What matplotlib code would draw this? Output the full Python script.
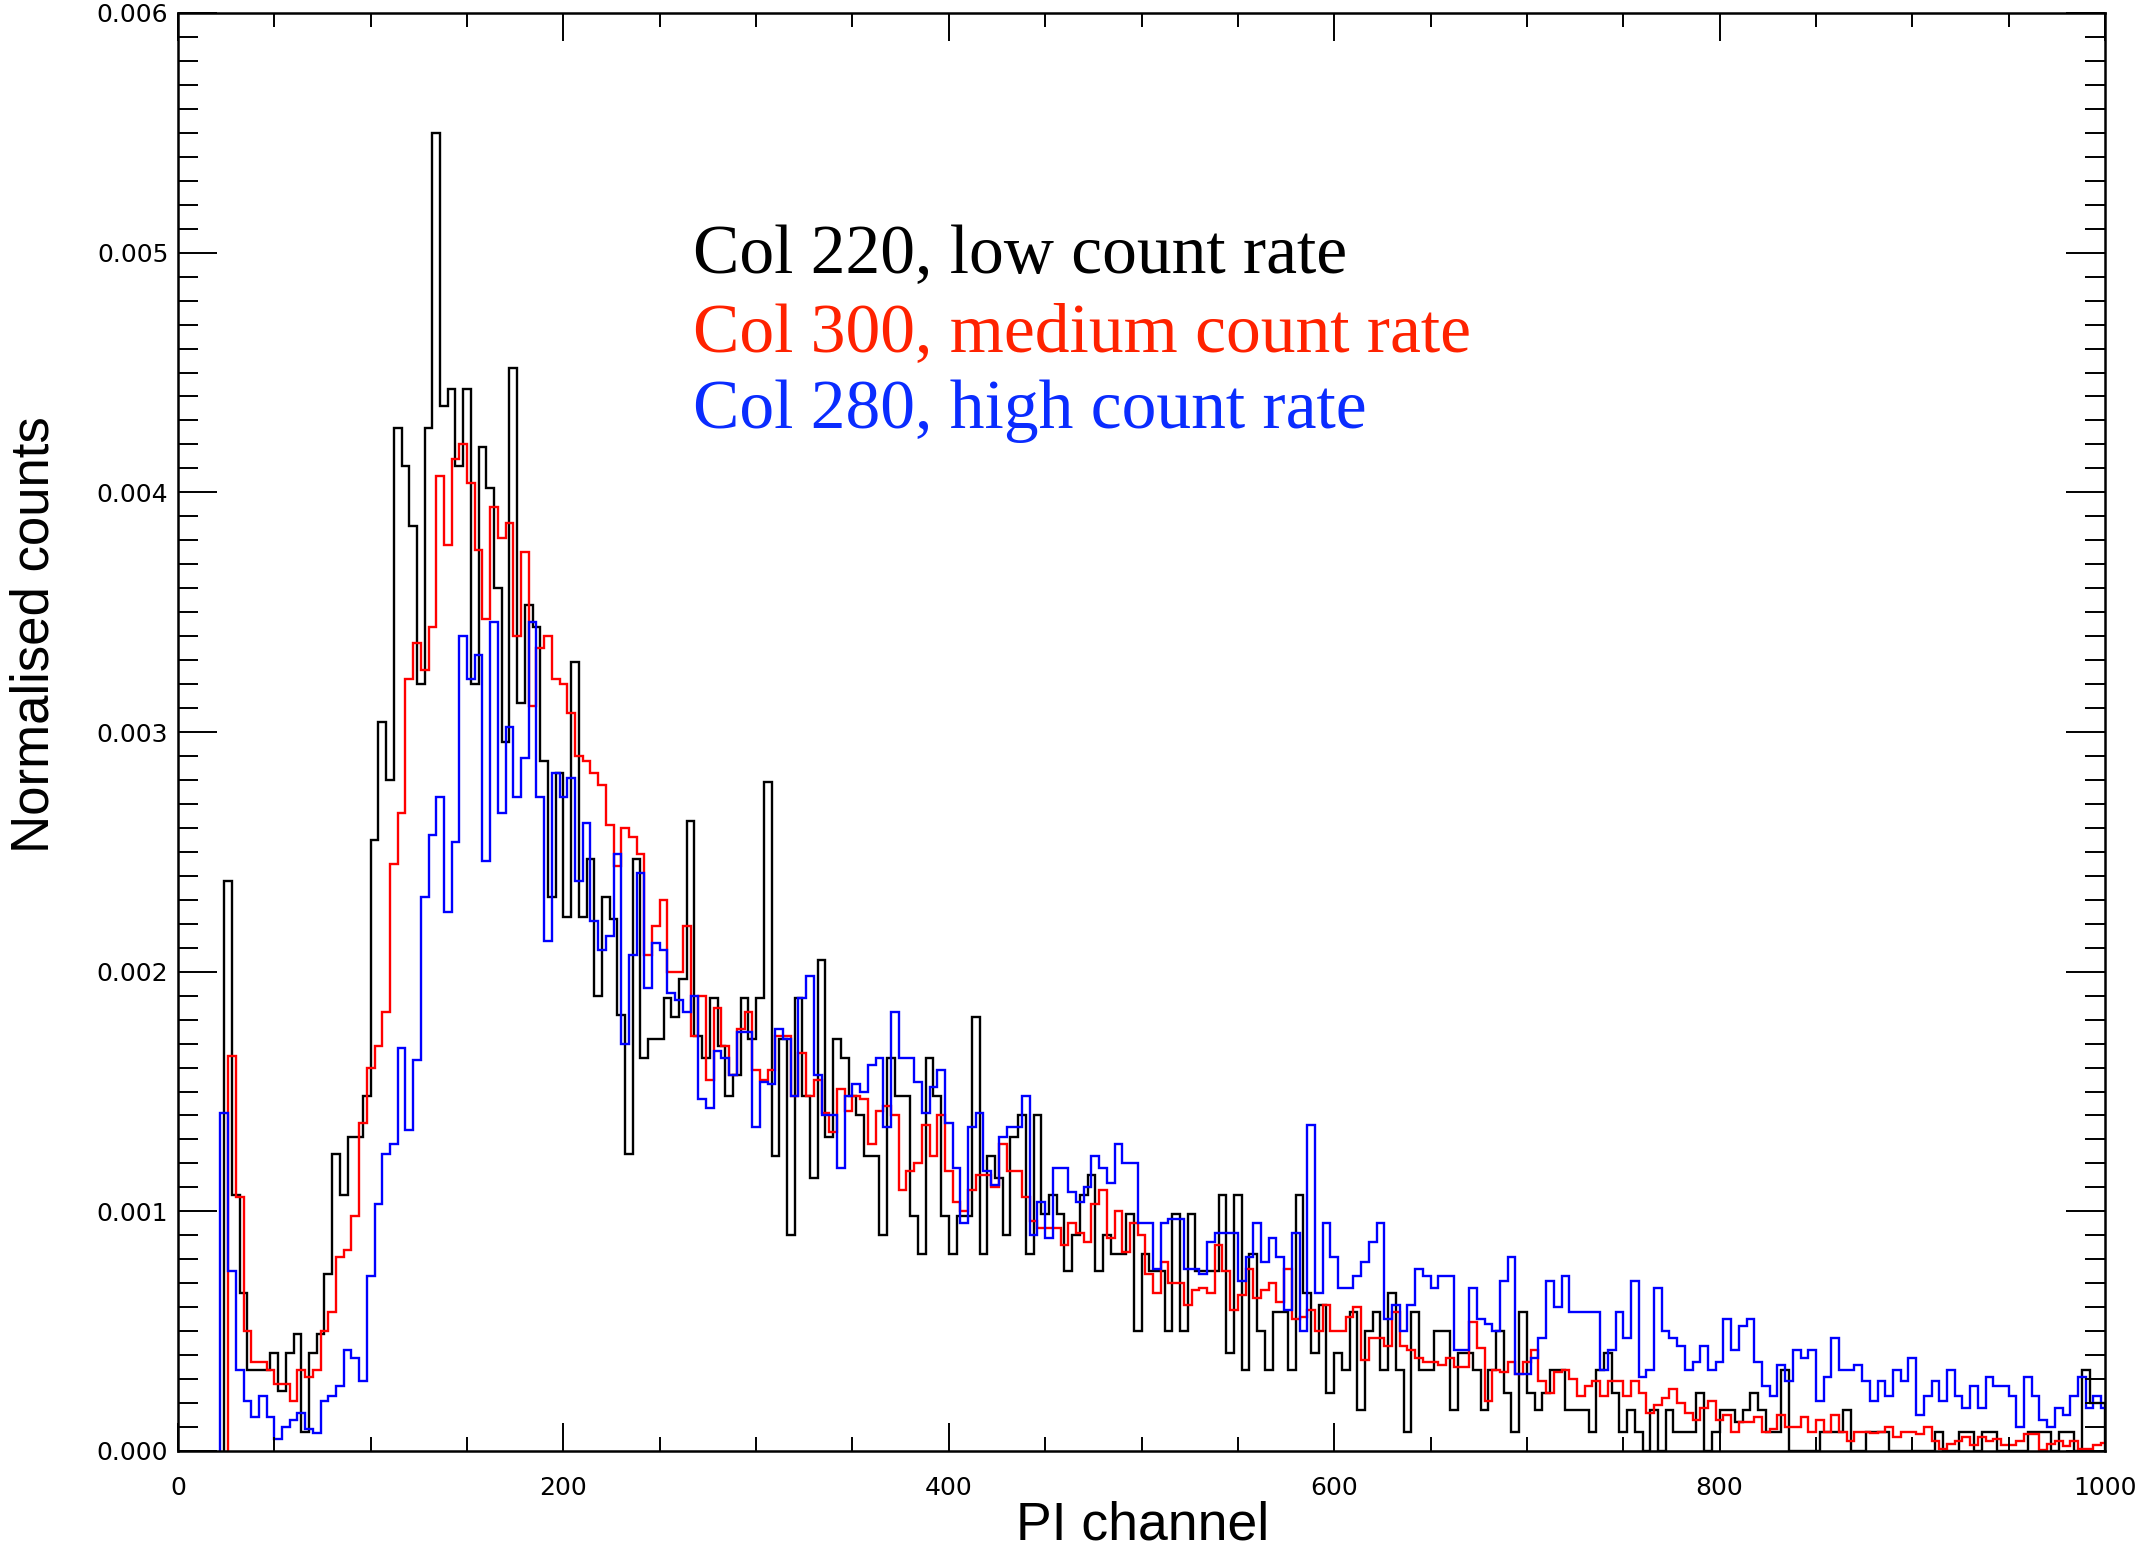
import numpy as np
import matplotlib
matplotlib.use("Agg")
import matplotlib.pyplot as plt
from matplotlib.ticker import MultipleLocator, FixedLocator

# ---------------- data (normalised counts, units of 1e-4) ----------------
bin_width = 4  # PI channels per bin

black_start = 24
black_vals = [
    23.8, 10.7, 6.6, 3.4, 3.4, 3.4, 4.1, 2.5, 4.1, 4.9, 0.8,
    4.1, 4.9, 7.4, 12.4, 10.7, 13.1, 13.1, 14.8, 25.5, 30.4, 28.0,
    42.7, 41.1, 38.6, 32.0, 42.7, 55.0, 43.6, 44.3, 41.1, 44.3, 32.0,
    41.9, 40.2, 36.0, 29.6, 45.2, 31.2, 35.3, 34.4, 28.8, 23.1, 28.3,
    22.3, 32.9, 22.3, 24.7, 19.0, 23.1, 22.2, 18.2, 12.4, 24.7, 16.4,
    17.2, 17.2, 18.9, 18.1, 19.7, 26.3, 17.3, 16.4, 18.9, 16.9, 14.8,
    15.7, 18.9, 17.2, 18.9, 27.9, 12.3, 17.2, 9.0, 18.9, 14.8, 11.4,
    20.5, 13.1, 17.2, 16.4, 14.8, 14.0, 12.3, 12.3, 9.0, 16.4, 14.8,
    14.8, 9.8, 8.2, 16.4, 14.8, 9.8, 8.2, 9.8, 9.8, 18.1, 8.2,
    12.3, 11.4, 9.0, 13.1, 14.0, 8.2, 14.0, 9.9, 10.7, 9.9, 7.5,
    9.0, 10.7, 11.5, 7.5, 9.0, 8.2, 8.2, 9.9, 5.0, 8.2, 7.5,
    7.5, 5.0, 9.9, 5.0, 9.9, 7.5, 7.5, 7.5, 10.7, 4.1, 10.7,
    3.4, 8.2, 5.0, 3.4, 5.8, 5.8, 3.4, 10.7, 6.6, 4.1, 6.1,
    2.4, 4.1, 3.4, 5.8, 1.7, 5.0, 5.8, 3.4, 6.6, 3.4, 0.8,
    5.8, 3.4, 3.4, 5.0, 5.0, 1.7, 4.1, 4.1, 3.4, 1.7, 3.4,
    5.0, 2.4, 0.8, 5.8, 2.4, 1.7, 2.4, 3.4, 3.4, 1.7, 1.7,
    1.7, 0.8, 3.4, 4.1, 2.4, 0.8, 1.7, 0.8, 0.0, 1.7, 0.0,
    1.7, 0.8, 0.8, 0.8, 2.4, 0.0, 0.8, 1.7, 1.7, 1.2, 1.7,
    2.4, 1.7, 0.8, 0.8, 3.4, 0.0, 0.0, 0.0, 0.0, 0.8, 0.8,
    0.8, 1.7, 0.0, 0.0, 0.8, 0.8, 0.8, 0.0, 0.0, 0.0, 0.0,
    0.0, 0.0, 0.8, 0.0, 0.0, 0.8, 0.8, 0.0, 0.8, 0.8, 0.0,
    0.0, 0.0, 0.0, 0.8, 0.8, 0.8, 0.0, 0.8, 0.8, 0.0, 3.4,
    2.0, 2.0,
]

red_start = 26
red_vals = [
    16.5, 10.6, 5.0, 3.7, 3.7, 3.4, 2.8, 2.8, 2.1, 3.4, 3.1,
    3.4, 5.0, 5.8, 8.1, 8.4, 9.8, 13.7, 16.0, 16.9, 18.3, 24.5,
    26.6, 32.2, 33.7, 32.6, 34.4, 40.7, 37.8, 41.4, 42.0, 40.4, 37.6,
    34.7, 39.4, 38.1, 38.7, 34.0, 37.5, 31.1, 33.5, 34.0, 32.2, 32.0,
    30.8, 29.0, 28.8, 28.3, 27.8, 26.1, 24.4, 26.0, 25.6, 24.9, 20.7,
    21.9, 23.0, 20.0, 20.0, 21.9, 17.3, 19.0, 15.5, 18.5, 16.9, 15.7,
    17.6, 18.3, 15.9, 15.5, 15.9, 17.3, 17.3, 14.8, 16.6, 14.8, 15.5,
    14.1, 13.3, 15.1, 14.2, 14.8, 14.7, 12.8, 14.2, 14.4, 14.0, 10.9,
    11.7, 12.0, 13.6, 12.3, 14.0, 11.7, 10.4, 10.0, 10.9, 11.5, 11.5,
    11.0, 12.8, 11.7, 11.7, 10.6, 9.6, 9.3, 9.3, 9.3, 8.6, 9.5,
    9.1, 8.7, 10.3, 10.9, 8.9, 10.0, 8.3, 9.5, 9.0, 7.4, 6.6,
    7.9, 7.0, 7.0, 6.1, 6.7, 6.8, 6.6, 8.6, 7.5, 5.9, 6.5,
    7.6, 6.4, 6.7, 7.0, 6.2, 7.6, 5.5, 5.6, 5.9, 5.0, 6.1,
    5.0, 5.0, 5.6, 6.0, 3.8, 4.7, 4.7, 4.4, 5.8, 4.4, 4.2,
    3.9, 3.7, 3.7, 3.6, 3.9, 3.5, 3.5, 5.4, 4.3, 2.1, 3.4,
    3.3, 3.7, 3.2, 3.7, 4.2, 2.9, 2.4, 3.3, 3.4, 3.0, 2.3,
    2.7, 2.9, 2.3, 2.9, 2.9, 2.3, 2.9, 2.4, 1.6, 1.9, 2.2,
    2.6, 2.0, 1.6, 1.3, 1.8, 2.1, 1.3, 1.5, 0.8, 1.2, 1.2,
    1.4, 0.8, 0.9, 1.5, 1.0, 1.0, 1.4, 0.8, 1.3, 0.8, 1.5,
    0.8, 0.4, 0.8, 0.8, 0.75, 0.8, 1.0, 0.6, 0.8, 0.8, 0.7,
    1.0, 0.4, 0.1, 0.3, 0.4, 0.6, 0.25, 0.6, 0.4, 0.5, 0.25,
    0.25, 0.4, 0.7, 0.7, 0.05, 0.3, 0.4, 0.2, 0.4, 0.1, 0.1,
    0.25, 0.35,
]

blue_start = 22
blue_vals = [
    14.1, 7.5, 3.4, 2.1, 1.4, 2.3, 1.4, 0.5, 1.0, 1.3, 1.6,
    0.9, 0.75, 2.1, 2.3, 2.7, 4.2, 3.9, 2.9, 7.3, 10.3, 12.4,
    12.8, 16.8, 13.4, 16.3, 23.1, 25.7, 27.3, 22.5, 25.4, 34.0, 32.2,
    33.2, 24.6, 34.6, 26.6, 30.2, 27.3, 28.9, 34.6, 27.3, 21.3, 28.3,
    27.3, 28.1, 23.8, 26.2, 22.1, 20.9, 21.5, 24.9, 17.0, 20.7, 24.1,
    19.3, 21.2, 20.9, 19.1, 18.8, 18.3, 19.0, 14.7, 14.3, 16.7, 16.4,
    15.7, 17.5, 17.5, 13.5, 15.4, 15.3, 17.6, 17.2, 14.8, 18.9, 19.8,
    15.7, 14.0, 14.0, 11.8, 14.8, 15.3, 15.0, 16.1, 16.4, 13.5, 18.3,
    16.4, 16.4, 15.4, 14.1, 15.2, 15.9, 13.7, 11.8, 9.5, 13.5, 14.1,
    11.7, 11.1, 13.1, 13.5, 13.5, 14.8, 9.0, 10.4, 8.9, 11.8, 11.8,
    10.8, 10.4, 11.0, 12.3, 11.8, 11.2, 12.8, 12.0, 12.0, 9.5, 9.5,
    7.6, 9.5, 9.7, 9.7, 7.6, 7.6, 7.4, 8.7, 9.1, 9.1, 9.1,
    7.1, 8.1, 9.5, 7.9, 8.9, 8.1, 5.9, 9.1, 5.0, 13.6, 6.6,
    9.5, 8.1, 6.8, 6.8, 7.3, 7.9, 8.7, 9.5, 5.5, 6.1, 5.0,
    6.1, 7.6, 7.3, 6.8, 7.3, 7.3, 4.2, 4.2, 6.8, 5.5, 5.3,
    5.0, 7.1, 8.1, 3.2, 3.2, 3.9, 4.7, 7.1, 6.0, 7.3, 5.8,
    5.8, 5.8, 5.8, 3.4, 4.2, 5.8, 4.7, 7.1, 3.1, 3.4, 6.8,
    5.0, 4.7, 4.4, 3.4, 3.7, 4.4, 3.4, 3.7, 5.5, 4.2, 5.2,
    5.5, 3.7, 2.7, 2.3, 3.6, 2.9, 4.2, 3.9, 4.2, 2.1, 3.1,
    4.7, 3.4, 3.4, 3.6, 2.9, 2.1, 2.9, 2.3, 3.4, 2.9, 3.9,
    1.5, 2.3, 2.9, 2.1, 3.4, 2.3, 1.8, 2.7, 1.8, 3.1, 2.7,
    2.7, 2.3, 1.0, 3.1, 2.3, 1.3, 1.0, 1.8, 1.5, 2.3, 3.1,
    1.8, 2.3, 1.8,
]

series_labels = ["Col 220, low count rate",
                 "Col 300, medium count rate",
                 "Col 280, high count rate"]
line_colors = ["black", "red", "blue"]
text_colors = ["black", "#ff2200", "#0a2cff"]

y_ticks = [0.000, 0.001, 0.002, 0.003, 0.004, 0.005, 0.006]
x_ticks = [0, 200, 400, 600, 800, 1000]

# ---------------- figure ----------------
W, H = 2143, 1549
fig = plt.figure(figsize=(W / 100, H / 100), dpi=100)
left, right, top, bottom = 178, 2105, 13, 1451
ax = fig.add_axes([left / W, (H - bottom) / H, (right - left) / W, (bottom - top) / H])

series = [(black_start, black_vals), (red_start, red_vals), (blue_start, blue_vals)]
for (start, vals), col in zip(series, line_colors):
    v = np.asarray(vals) * 1e-4
    edges = start + bin_width * np.arange(len(v) + 1)
    ax.stairs(v, edges, baseline=0, color=col, linewidth=1.7)

ax.set_xlim(0, 1000)
ax.set_ylim(0, 0.006)

ax.xaxis.set_major_locator(FixedLocator(x_ticks))
ax.xaxis.set_minor_locator(MultipleLocator(50))
ax.yaxis.set_major_locator(FixedLocator(y_ticks))
ax.yaxis.set_minor_locator(MultipleLocator(0.0001))
ax.set_xticklabels([str(t) for t in x_ticks])
ax.set_yticklabels(["%.3f" % t for t in y_ticks])

ax.tick_params(axis="both", which="both", direction="in", top=True, right=True,
               width=1.4, colors="black")
ax.tick_params(axis="y", which="major", length=28, pad=7, labelsize=18)
ax.tick_params(axis="y", which="minor", length=14.5)
ax.tick_params(axis="x", which="major", length=20, pad=18, labelsize=18)
ax.tick_params(axis="x", which="minor", length=10)
for lab in ax.get_xticklabels() + ax.get_yticklabels():
    lab.set_family("DejaVu Sans")
for sp in ax.spines.values():
    sp.set_linewidth(1.8)

fig.text(35 / W, 1 - 635 / H, "Normalised counts", rotation=90, ha="center",
         va="center", fontsize=38, family="Liberation Sans")
fig.text(1143 / W, 9 / H, "PI channel", ha="center", va="baseline",
         fontsize=38.5, family="Liberation Sans")

baselines = [273, 351, 428]
for lab, col, yb in zip(series_labels, text_colors, baselines):
    fig.text(693 / W, 1 - yb / H, lab, color=col, fontsize=50,
             family="Liberation Serif", ha="left", va="baseline")

fig.savefig("out.png", dpi=100)
